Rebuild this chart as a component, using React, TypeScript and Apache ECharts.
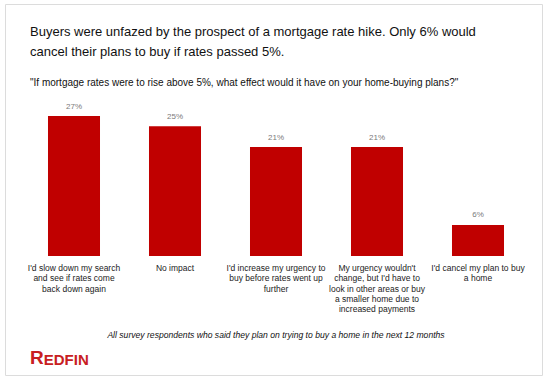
import React, { useEffect, useRef } from "react";
import * as echarts from "echarts";

const titleLines = [
  "Buyers were unfazed by the prospect of a mortgage rate hike. Only 6% would",
  "cancel their plans to buy if rates passed 5%.",
];
const subtitle =
  '"If mortgage rates were to rise above 5%, what effect would it have on your home-buying plans?"';
const footnote =
  "All survey respondents who said they plan on trying to buy a home in the next 12 months";

const categories = [
  "I'd slow down my search\nand see if rates come\nback down again",
  "No impact",
  "I'd increase my urgency to\nbuy before rates went up\nfurther",
  "My urgency wouldn't\nchange, but I'd have to\nlook in other areas or buy\na smaller home due to\nincreased payments",
  "I'd cancel my plan to buy\na home",
];
const values = [27, 25, 21, 21, 6];

const FONT = "'Liberation Sans', Arial, Helvetica, sans-serif";

export default function App() {
  const ref = useRef<HTMLDivElement>(null);
  useEffect(() => {
    if (!ref.current) return;
    const chart = echarts.init(ref.current, undefined, { renderer: "svg" });
    chart.setOption({
      animation: false,
      backgroundColor: "#ffffff",
      textStyle: { fontFamily: FONT },
      grid: { left: 23.5, right: 21.5, top: 116, bottom: 125, containLabel: false },
      xAxis: {
        type: "category",
        data: categories,
        axisLine: { show: false },
        axisTick: { show: false },
        axisLabel: {
          interval: 0,
          margin: 7,
          fontSize: 8.5,
          lineHeight: 10.3,
          color: "#222",
          fontFamily: FONT,
          align: "center",
        },
      },
      yAxis: {
        type: "value",
        min: 0,
        max: 27,
        show: false,
        splitLine: { show: false },
      },
      series: [
        {
          type: "bar",
          data: values,
          barWidth: "51.5%",
          itemStyle: { color: "#c00000" },
          label: {
            show: true,
            position: "top",
            distance: 6,
            formatter: "{c}%",
            fontSize: 8,
            color: "#7a7a7a",
            fontFamily: FONT,
          },
        },
      ],
      graphic: [
        {
          type: "rect",
          shape: { x: 5.5, y: 4.5, width: 537, height: 371 },
          style: { fill: "none", stroke: "#dcdcdc", lineWidth: 1 },
          silent: true,
        },
        {
          type: "text",
          x: 30,
          y: 21,
          style: {
            text: titleLines.join("\n"),
            fontSize: 13,
            lineHeight: 20,
            fill: "#111",
            fontFamily: FONT,
          },
        },
        {
          type: "text",
          x: 30,
          y: 77,
          style: {
            text: subtitle,
            fontSize: 10,
            fill: "#111",
            fontFamily: FONT,
          },
        },
        {
          type: "text",
          x: 276,
          y: 335,
          style: {
            text: footnote,
            fontSize: 8.6,
            fontStyle: "italic",
            fill: "#111",
            align: "center",
            verticalAlign: "middle",
            fontFamily: FONT,
          },
        },
        {
          type: "text",
          x: 30,
          y: 367,
          style: {
            text: "{a|R}{b|EDFIN}",
            verticalAlign: "bottom",
            rich: {
              a: { fontSize: 19, fontWeight: "bold", fill: "#c82021", fontFamily: FONT, verticalAlign: "bottom" },
              b: { fontSize: 15, fontWeight: "bold", fill: "#c82021", fontFamily: FONT, verticalAlign: "bottom" },
            },
          },
        },
      ],
    });
    return () => chart.dispose();
  }, []);
  return (
    <div
      ref={ref}
      style={{ position: "fixed", left: 0, top: 0, width: 550, height: 381 }}
    />
  );
}
